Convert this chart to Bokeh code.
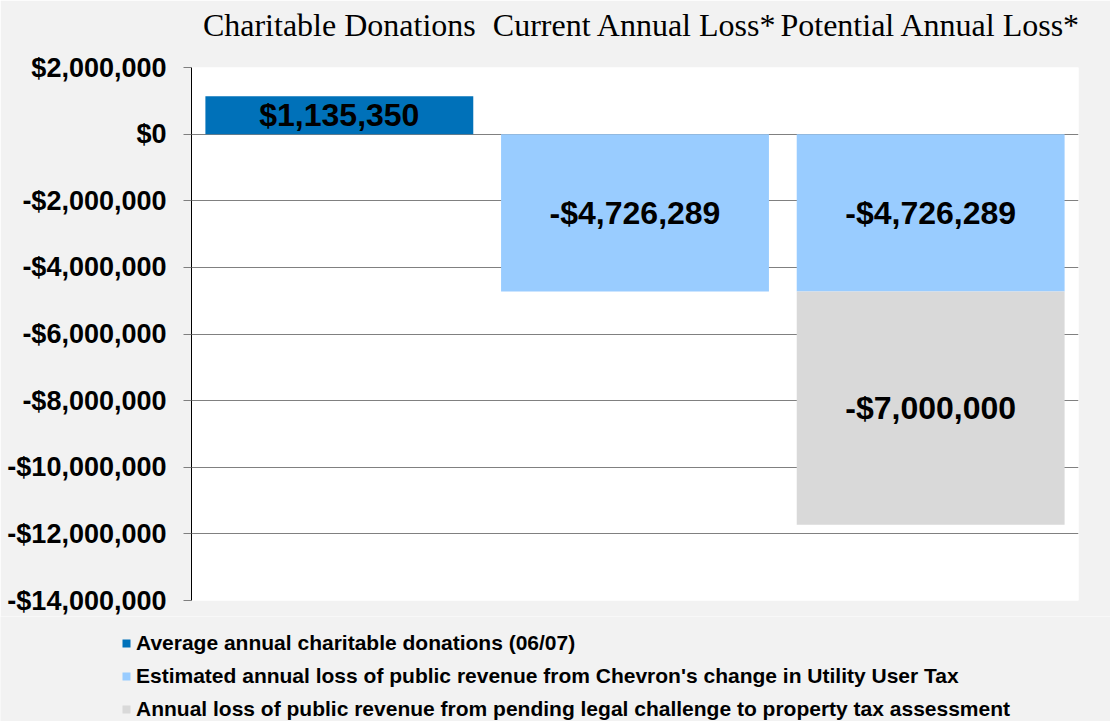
from bokeh.plotting import figure
from bokeh.layouts import column
from bokeh.models import (FactorRange, Range1d, FixedTicker, CustomJSTickFormatter,
                          Legend, LegendItem, ColumnDataSource, LinearAxis, CategoricalAxis)
from bokeh.core.properties import value
from bokeh.embed import file_html
from bokeh.resources import INLINE

categories = ["Charitable Donations", "Current Annual Loss*", "Potential Annual Loss*"]
donations = [1135350, 0, 0]
utility_tax_loss = [0, -4726289, -4726289]
property_tax_loss = [0, 0, -7000000]
series_names = ["donations", "utility", "property"]
series_labels = [
    "Average annual charitable donations (06/07)",
    "Estimated annual loss of public revenue from Chevron's change in Utility User Tax",
    "Annual loss of public revenue from pending legal challenge to property tax assessment",
]
colors = ["#0071B9", "#99CCFF", "#D9D9D9"]
y_ticks = [2000000, 0, -2000000, -4000000, -6000000, -8000000, -10000000, -12000000, -14000000]

BG = "#F2F2F2"

p = figure(width=1110, height=616, output_backend="svg", toolbar_location=None,
           x_range=FactorRange(*categories), y_range=Range1d(-14000000, 2000000),
           x_axis_location=None, y_axis_location=None,
           min_border_left=191, min_border_right=32, min_border_top=67, min_border_bottom=16)
p.frame_align = False
p.border_fill_color = BG
p.background_fill_color = "white"
p.outline_line_color = None

src = ColumnDataSource(dict(cat=categories, donations=donations,
                            utility=utility_tax_loss, property=property_tax_loss))
rs = p.vbar_stack(series_names, x="cat", width=0.906, source=src, color=colors, line_color=None)

# labels at segment centres
lx, ly, lt = [], [], []
for i, c in enumerate(categories):
    base = 0
    for arr in (donations, utility_tax_loss, property_tax_loss):
        v = arr[i]
        if v != 0:
            lx.append(c)
            ly.append(base + v / 2)
            lt.append(("-" if v < 0 else "") + "$" + f"{abs(v):,}")
        base += v
p.text(x=lx, y=ly, text=lt, text_align="center", text_baseline="middle",
       text_font=value("Liberation Sans"), text_font_style="bold", text_font_size="32px",
       text_color="black")

# y axis
yaxis = LinearAxis(ticker=FixedTicker(ticks=y_ticks),
                   formatter=CustomJSTickFormatter(code="return (tick<0?'-':'') + '$' + Math.abs(tick).toLocaleString('en-US');"))
yaxis.major_label_text_font = "Liberation Sans"
yaxis.major_label_text_font_style = "bold"
yaxis.major_label_text_font_size = "27px"
yaxis.major_label_text_color = "black"
yaxis.major_label_standoff = 17
yaxis.major_tick_in = 0
yaxis.major_tick_out = 8
yaxis.major_tick_line_color = "#7F7F7F"
yaxis.minor_tick_line_color = None
yaxis.axis_line_color = "black"
p.add_layout(yaxis, "left")

# category axis on top
xaxis = CategoricalAxis()
xaxis.major_label_text_font = "Liberation Serif"
xaxis.major_label_text_font_size = "32px"
xaxis.major_label_text_color = "black"
xaxis.major_tick_line_color = None
xaxis.axis_line_color = None
xaxis.major_label_standoff = 19
p.add_layout(xaxis, "above")

p.xgrid.grid_line_color = None
p.ygrid.ticker = FixedTicker(ticks=y_ticks)
p.ygrid.grid_line_color = "#808080"
p.ygrid.grid_line_width = 1

# legend strip below the chart (same series, drawn out of view so only the legend shows)
lg = figure(width=1110, height=105, output_backend="svg", toolbar_location=None,
            x_range=FactorRange(*categories), y_range=Range1d(50000000, 60000000),
            x_axis_location=None, y_axis_location=None,
            min_border_left=0, min_border_right=0, min_border_top=0, min_border_bottom=0)
lg.frame_align = False
lg.border_fill_color = BG
lg.background_fill_color = BG
lg.outline_line_color = None
lg.grid.grid_line_color = None
lrs = lg.vbar_stack(series_names, x="cat", width=0.906, source=src, color=colors, line_color=None)

legend = Legend(items=[LegendItem(label=series_labels[i], renderers=[lrs[i]]) for i in range(3)],
                location=(121, 0), orientation="vertical",
                glyph_width=10, glyph_height=10, label_standoff=5,
                label_text_font="Liberation Sans", label_text_font_style="bold",
                label_text_font_size="21px", label_text_color="black",
                label_height=20, spacing=9, padding=0, margin=0,
                border_line_color=None, background_fill_alpha=0)
lg.add_layout(legend, "center")

layout = column(p, lg, spacing=0)
open("out.html", "w").write(file_html(layout, INLINE))
